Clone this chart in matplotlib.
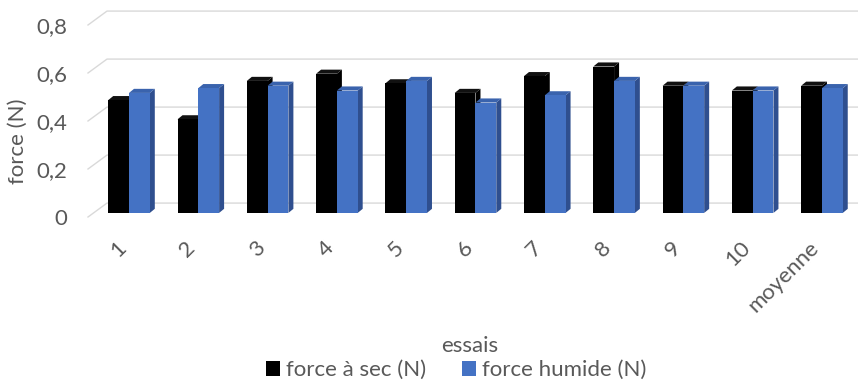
import matplotlib
matplotlib.use('Agg')
import matplotlib.pyplot as plt
import numpy as np
from matplotlib.patches import Polygon, Patch
from matplotlib.transforms import ScaledTranslation

# données
categories = ['1', '2', '3', '4', '5', '6', '7', '8', '9', '10', 'moyenne']
force_sec = [0.47, 0.39, 0.55, 0.58, 0.54, 0.50, 0.57, 0.61, 0.53, 0.51, 0.53]
force_humide = [0.50, 0.52, 0.53, 0.51, 0.55, 0.46, 0.49, 0.55, 0.53, 0.51, 0.52]
yticks = [0, 0.2, 0.4, 0.6, 0.8]
ytick_labels = ['0', '0,2', '0,4', '0,6', '0,8']

plt.rcParams['font.family'] = ['Lato', 'DejaVu Sans']
gris = '#595959'
fs = 16

fig = plt.figure(figsize=(8.58, 3.85), dpi=100)
W, H = 858, 385
ax = fig.add_axes([88 / W, 1 - 217 / H, 1 - 88 / W, (217 - 5) / H])
ax.set_xlim(-0.592, 10.52)
ax.set_ylim(0, 212 / 240)
for s in ax.spines.values():
    s.set_visible(False)

# grille en perspective (paroi du fond décalée)
dxw, dyw = 0.274, 0.058
x_left, x_right = -0.592, 10.52
for v in yticks:
    ax.plot([x_left, x_left + dxw, x_right], [v, v + dyw, v + dyw],
            color='#d9d9d9', lw=1, zorder=1, clip_on=False)

# barres "3D"
w = 0.30
dx, dy = 0.072, 0.017
base = 0.017
styles = [('#000000', '#000000', '#111111'),
          ('#4472c4', '#2f4f8f', '#3a63ad')]
x = np.arange(len(categories))
for i in x:
    for k, (vals, (c_front, c_side, c_top)) in enumerate(zip([force_sec, force_humide], styles)):
        v = vals[i]
        x0 = i + (k - 1) * w
        y0, y1 = base, base + v
        side = Polygon([(x0 + w, y0), (x0 + w + dx, y0 + dy), (x0 + w + dx, y1 + dy), (x0 + w, y1)],
                       closed=True, facecolor=c_side, edgecolor='none', zorder=2)
        top = Polygon([(x0, y1), (x0 + dx, y1 + dy), (x0 + w + dx, y1 + dy), (x0 + w, y1)],
                      closed=True, facecolor=c_top, edgecolor='none', zorder=2)
        ax.add_patch(side)
        ax.add_patch(top)
        ax.bar(x0, v, width=w, bottom=base, align='edge', color=c_front, zorder=2)

ax.set_yticks(yticks)
ax.set_yticklabels(ytick_labels)
ax.set_xticks(x)
ax.set_xticklabels(categories, rotation=45, ha='right', va='center', rotation_mode='anchor')
ax.tick_params(axis='y', length=0, pad=15, labelsize=fs, labelcolor=gris)
ax.tick_params(axis='x', length=0, pad=20, labelsize=fs, labelcolor=gris)
for lab in ax.get_xticklabels():
    lab.set_transform(lab.get_transform() + ScaledTranslation(-0.06, 0, fig.dpi_scale_trans))

fig.text(18 / W, 1 - 141 / H, 'force (N)', rotation=90, ha='center', va='center',
         fontsize=fs, color=gris)
fig.text(470 / W, 1 - 346 / H, 'essais', ha='center', va='center', fontsize=fs, color=gris)

handles = [Patch(facecolor='#000000', label='force à sec (N)'),
           Patch(facecolor='#4472c4', label='force humide (N)')]
fig.legend(handles=handles, loc='center', bbox_to_anchor=(456 / W, 1 - 370 / H), ncol=2,
           frameon=False, fontsize=fs, labelcolor=gris, handlelength=0.65, handleheight=0.65,
           handletextpad=0.25, columnspacing=1.6, borderpad=0, borderaxespad=0)

fig.savefig('out.png', dpi=100)
